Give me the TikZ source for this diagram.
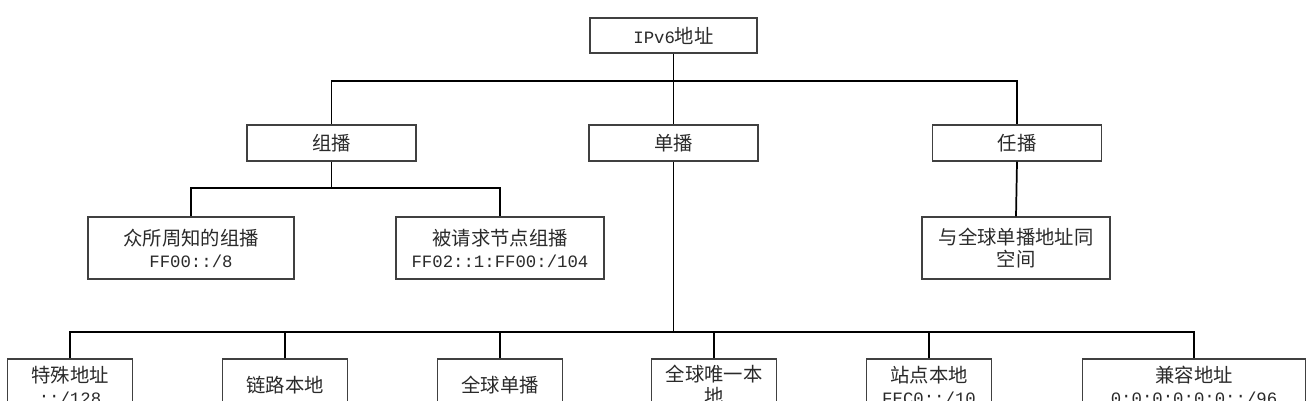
\documentclass[tikz,border=0pt]{standalone}
\usepackage{fontspec}
\setmainfont{Noto Sans CJK SC}
\newfontfamily\lat{Liberation Mono}
\newcommand\latt{\lat\fontsize{13}{16.5}\selectfont}
\definecolor{boxgray}{HTML}{404040}
\definecolor{txtgray}{HTML}{2A2A2A}
\begin{document}
\begin{tikzpicture}[x=0.75pt,y=-0.75pt,
  box/.style={draw=boxgray, line width=0.8pt, inner sep=0pt, text=txtgray, align=center,
    font=\fontsize{14.5}{16.5}\selectfont},
  wire/.style={line width=1.3pt, black}]
\useasboundingbox (0,0) rectangle (1316,400);
\clip (0,0) rectangle (1316,400);
\fill[white] (0,0) rectangle (1316,400);

% root
\node[box, minimum width=125.25pt, minimum height=26.25pt] (root) at (673.5,35.5) {{\latt IPv6}地址};

% level 2
\node[box, minimum width=126.75pt, minimum height=27pt] (g) at (331.5,143) {组播};
\node[box, minimum width=126.75pt, minimum height=27pt] (u) at (673.5,143) {单播};
\node[box, minimum width=126.75pt, minimum height=27pt] (r) at (1017,143) {任播};

% level 3
\node[box, minimum width=154.5pt, minimum height=46.5pt] (w) at (191,248)
  {众所周知的组播\\{\latt FF00::/8}};
\node[box, minimum width=156pt, minimum height=46.5pt] (s) at (500,248)
  {被请求节点组播\\{\latt FF02::1:FF00:/104}};
\node[box, minimum width=141pt, minimum height=46.5pt] (a) at (1016,248)
  {与全球单播地址同\\空间};

% bottom row
\node[box, minimum width=93.75pt, minimum height=39pt] (c1) at (70,385)
  {特殊地址\\{\latt ::/128}};
\node[box, minimum width=93.75pt, minimum height=39pt] (c2) at (285,385) {链路本地};
\node[box, minimum width=93.75pt, minimum height=39pt] (c3) at (500,385) {全球单播};
\node[box, minimum width=93.75pt, minimum height=39pt] (c4) at (714,385) {全球唯一本\\地};
\node[box, minimum width=93.75pt, minimum height=39pt] (c5) at (929,385)
  {站点本地\\{\latt FEC0::/10}};
\node[box, minimum width=167.25pt, minimum height=39pt] (c6) at (1194,385)
  {兼容地址\\{\latt 0:0:0:0:0:0::/96}};

% junction coordinates
\coordinate (bar1) at (673.5,81);
\coordinate (bar2) at (331.5,188);
\coordinate (bar3) at (673.5,332);

% connectors
\draw[wire] (root.south) -- (bar1) -- (u.north);
\draw[wire] (g.north) |- (bar1) -| (r.north);
\draw[wire] (g.south) -- (bar2);
\draw[wire] (w.north) |- (bar2) -| (s.north);
\draw[wire] (r.south) -- (a.north);
\draw[wire] (u.south) -- (bar3);
\draw[wire] (c1.north) |- (bar3) -| (c6.north);
\draw[wire] (c2.north) -- (c2.north |- bar3);
\draw[wire] (c3.north) -- (c3.north |- bar3);
\draw[wire] (c4.north) -- (c4.north |- bar3);
\draw[wire] (c5.north) -- (c5.north |- bar3);
\end{tikzpicture}
\end{document}
